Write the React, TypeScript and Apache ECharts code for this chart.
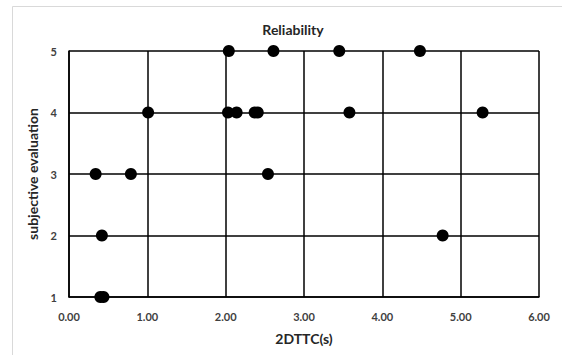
import React, { useEffect, useRef } from "react";
import * as echarts from "echarts";

const xTicks = [0, 1, 2, 3, 4, 5, 6];
const yTicks = [1, 2, 3, 4, 5];
const ttcValues = [2.04, 2.61, 3.45, 4.48, 1.01, 2.03, 2.14, 2.37, 2.41, 3.58, 5.28, 0.34, 0.79, 2.54, 0.42, 4.77, 0.40, 0.44];
const evalValues = [5, 5, 5, 5, 4, 4, 4, 4, 4, 4, 4, 3, 3, 3, 2, 2, 1, 1];

const FONT = "Lato, 'Open Sans', sans-serif";

export default function App() {
  const ref = useRef<HTMLDivElement>(null);
  useEffect(() => {
    if (!ref.current) return;
    const chart = echarts.init(ref.current, undefined, { renderer: "svg" });
    const points = ttcValues.map((x, i) => [x, evalValues[i]]);
    chart.setOption({
      animation: false,
      backgroundColor: "#ffffff",
      title: {
        text: "Reliability",
        left: 288,
        textAlign: "center",
        top: 17,
        textStyle: { fontFamily: FONT, fontSize: 14, fontWeight: "bold", color: "#262626" },
      },
      graphic: [
        {
          type: "rect",
          shape: { x: 12.5, y: 6.5, width: 600, height: 400 },
          style: { fill: "none", stroke: "#d9d9d9", lineWidth: 1 },
          silent: true,
        },
      ],
      grid: { left: 69, right: 23, top: 51, bottom: 58, show: false },
      xAxis: {
        type: "value",
        min: xTicks[0],
        max: xTicks[xTicks.length - 1],
        interval: 1,
        name: "2DTTC(s)",
        nameLocation: "middle",
        nameGap: 34,
        nameTextStyle: { fontFamily: FONT, fontSize: 14, fontWeight: "bold", color: "#262626" },
        axisLine: { show: true, lineStyle: { color: "#000", width: 1.5 } },
        axisTick: { show: false },
        axisLabel: {
          margin: 14,
          fontFamily: FONT,
          fontSize: 11,
          fontWeight: "bold",
          color: "#404040",
          formatter: (v: number) => v.toFixed(2),
        },
        splitLine: { show: true, lineStyle: { color: "#000", width: 1.5 } },
      },
      yAxis: {
        type: "value",
        min: yTicks[0],
        max: yTicks[yTicks.length - 1],
        interval: 1,
        name: "subjective evaluation",
        nameLocation: "middle",
        nameGap: 29,
        nameTextStyle: { fontFamily: FONT, fontSize: 14, fontWeight: "bold", color: "#262626" },
        axisLine: { show: true, lineStyle: { color: "#000", width: 1.5 } },
        axisTick: { show: false },
        axisLabel: { margin: 12, fontFamily: FONT, fontSize: 11, fontWeight: "bold", color: "#404040" },
        splitLine: { show: true, lineStyle: { color: "#000", width: 1.5 } },
      },
      series: [
        {
          type: "scatter",
          data: points,
          symbol: "circle",
          symbolSize: 12,
          itemStyle: { color: "#000000", opacity: 1 },
        },
      ],
    });
    return () => chart.dispose();
  }, []);
  return (
    <div
      ref={ref}
      style={{ position: "fixed", left: 0, top: 0, width: 562, height: 355 }}
    />
  );
}
